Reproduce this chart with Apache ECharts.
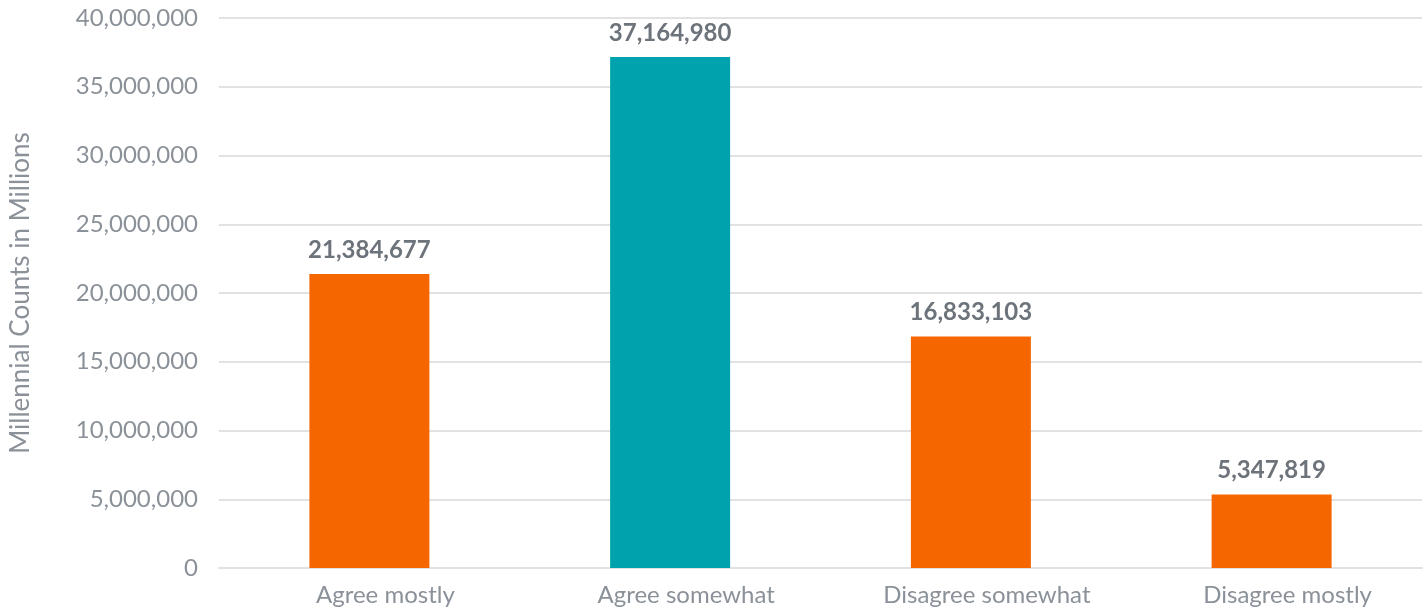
<!DOCTYPE html>
<html><head><meta charset="utf-8">
<script src="https://cdn.jsdelivr.net/npm/echarts@6/dist/echarts.min.js"></script>
<style>html,body{margin:0;padding:0;background:#fff}#c{width:1426px;height:611px}</style>
</head><body><div id="c"></div>
<script>
const categories = ["Agree mostly", "Agree somewhat", "Disagree somewhat", "Disagree mostly"];
const values = [21384677, 37164980, 16833103, 5347819];
const barColors = ["#F56600", "#00A3AD", "#F56600", "#F56600"];
const yAxisName = "Millennial Counts in Millions";

const chart = echarts.init(document.getElementById('c'));
const fmt = v => v.toLocaleString('en-US');
chart.setOption({
  animation: false,
  textStyle: { fontFamily: 'Lato' },
  grid: { left: 218, right: 4, top: 18, bottom: 43, containLabel: false },
  xAxis: {
    type: 'category', data: categories,
    axisLine: { lineStyle: { color: '#e2e2e2', width: 2 } },
    axisTick: { show: false },
    axisLabel: { color: '#8b9199', fontSize: 24, margin: 15, fontFamily: 'Lato', padding: [0, 0, 0, 32] }
  },
  yAxis: {
    type: 'value', min: 0, max: 40000000, interval: 5000000,
    name: yAxisName, nameLocation: 'middle', nameGap: 185,
    nameTextStyle: { color: '#8b9199', fontSize: 26, fontFamily: 'Lato' },
    axisLine: { show: false }, axisTick: { show: false },
    axisLabel: { color: '#8b9199', fontSize: 24, margin: 21, formatter: fmt, fontFamily: 'Lato' },
    splitLine: { lineStyle: { color: '#e2e2e2', width: 2 } }
  },
  series: [{
    type: 'bar', barWidth: 120,
    data: values.map((v, i) => ({ value: v, itemStyle: { color: barColors[i] } })),
    label: { show: true, position: 'top', distance: 12, color: '#6d737a', fontSize: 24, fontWeight: 'bold',
      fontFamily: 'Lato', formatter: p => fmt(p.value) }
  }]
});
</script></body></html>
